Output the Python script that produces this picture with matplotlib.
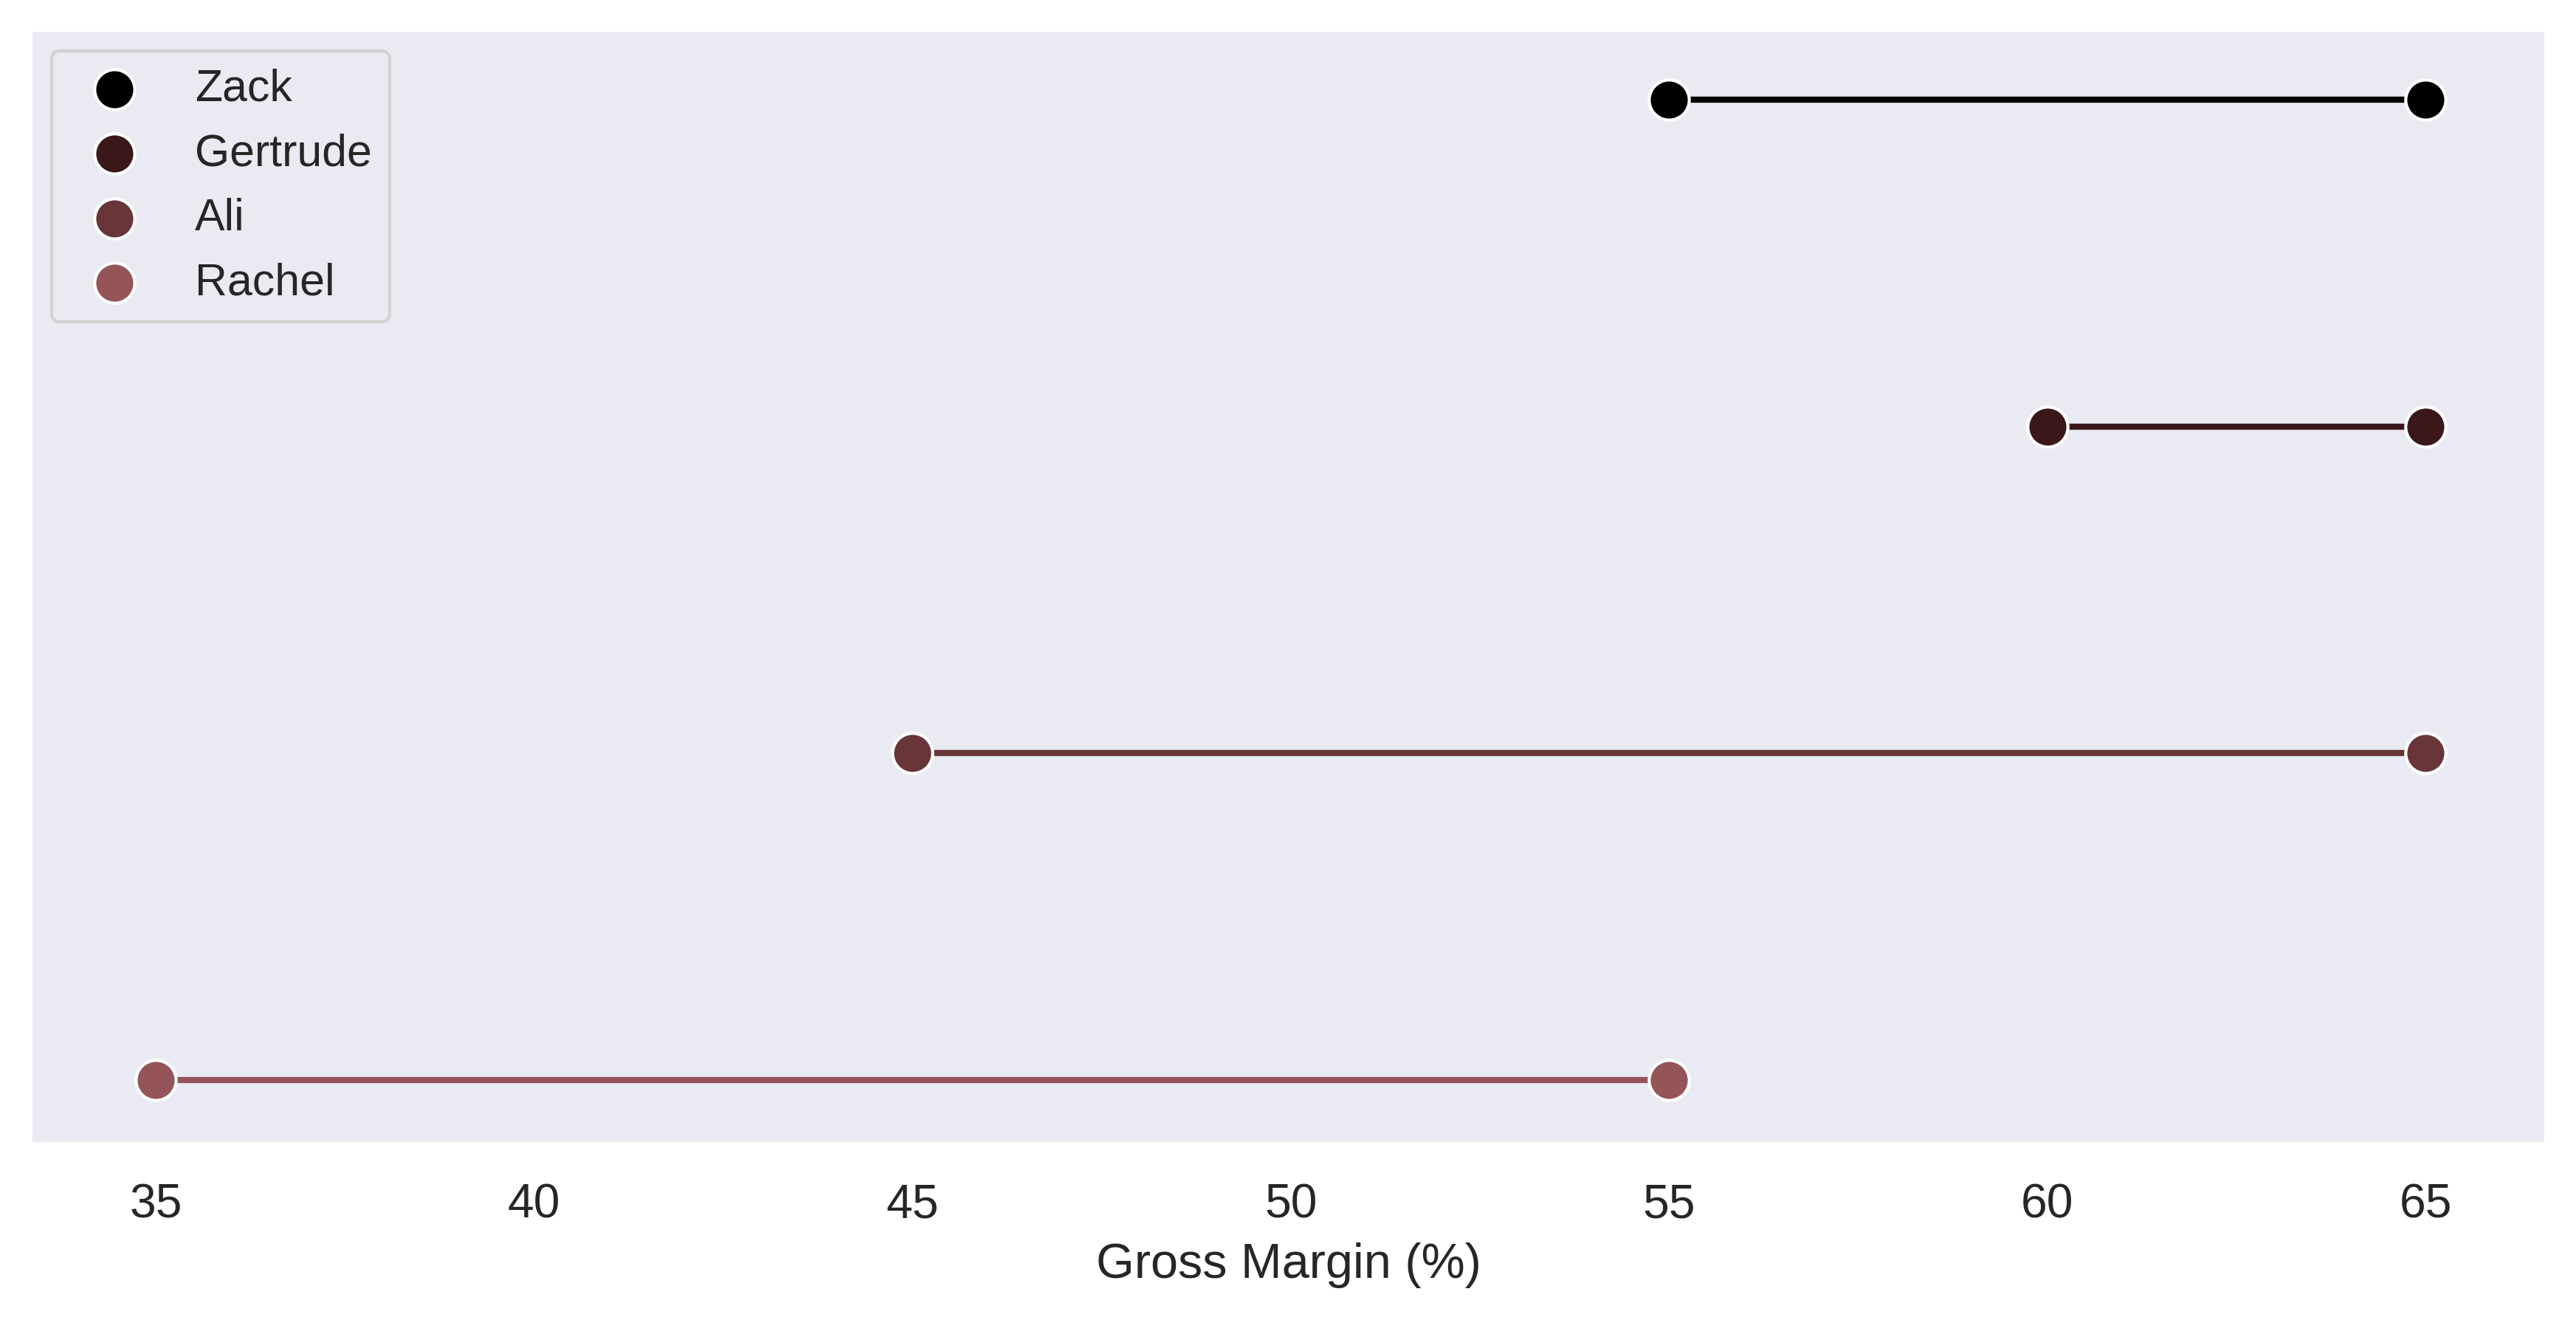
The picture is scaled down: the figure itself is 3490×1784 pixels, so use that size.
import matplotlib
matplotlib.use("Agg")
import matplotlib.pyplot as plt

plt.rcParams['font.family'] = ['Liberation Sans', 'DejaVu Sans']

# data
names = ['Zack', 'Gertrude', 'Ali', 'Rachel']
margin_low = [55, 60, 45, 35]
margin_high = [65, 65, 65, 55]
colors = ['#000000', '#3a181a', '#683538', '#955458']

fig = plt.figure(figsize=(3490 / 300, 1784 / 300), dpi=300)
ax = fig.add_axes([44 / 3490, 1 - 1547 / 1784, (3447 - 44) / 3490, (1547 - 43) / 1784])
ax.set_facecolor('#EAEAF2')
for s in ax.spines.values():
    s.set_visible(False)

for i, (name, lo, hi, c) in enumerate(zip(names, margin_low, margin_high, colors)):
    ax.plot([lo, hi], [i, i], color=c, lw=2, zorder=2)
    ax.scatter([lo, hi], [i, i], s=170, color=c, edgecolor='white', linewidth=1, zorder=3, label=name)

ax.set_xlim(33.37, 66.57)
ax.set_ylim(3.19, -0.208)
ax.set_yticks([])
ax.set_xticks([35, 40, 45, 50, 55, 60, 65])
ax.tick_params(axis='x', length=0, pad=13.4, labelsize=15.4, labelcolor='#262626')
ax.set_xlabel('Gross Margin (%)', fontsize=16, color='#262626', labelpad=4.8)

leg = ax.legend(loc='upper left', fontsize=14.6, borderaxespad=0.42, scatterpoints=1)
for t in leg.get_texts():
    t.set_color('#262626')
leg.get_frame().set_facecolor('#EAEAF2')
leg.get_frame().set_edgecolor('#cccccc')

fig.savefig('out.png', dpi=300)
